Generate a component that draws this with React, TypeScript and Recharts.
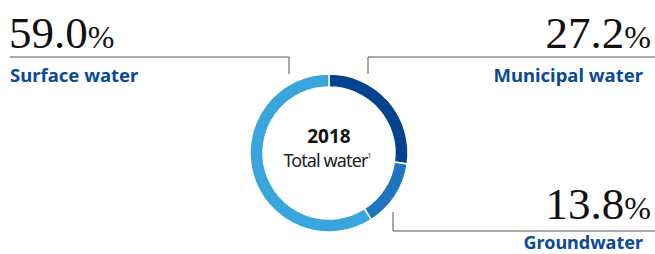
import React from 'react';
import { PieChart, Pie, Cell } from 'recharts';

const categories = ['Municipal water', 'Groundwater', 'Surface water'];
const shares = [27.2, 13.8, 59.0];
const colors = ['#00448f', '#1f74bf', '#38a5dd'];
const centerYear = '2018';
const centerLabel = 'Total water';

const data = categories.map((name, i) => ({ name, value: shares[i] }));

const serif = '"Liberation Serif", "DejaVu Serif", serif';
const sans = '"Noto Sans", "Open Sans", sans-serif';
const lineColor = '#555';
const labelBlue = '#0b4a98';

function Callout({ x, y, anchor, index }: { x: number; y: number; anchor: 'start' | 'end'; index: number }) {
    return (
        <text x={x} y={y} textAnchor={anchor} fontFamily={serif} fontSize={45} fill="#111">
            {shares[index].toFixed(1)}
            <tspan fontSize={32}>%</tspan>
        </text>
    );
}

export default function App() {
    return (
        <div style={{ position: 'absolute', left: 0, top: 0, width: 655, height: 254, background: '#fff' }}>
            <PieChart width={655} height={254} margin={{ top: 0, right: 0, bottom: 0, left: 0 }}>
                <Pie
                    data={data}
                    dataKey="value"
                    nameKey="name"
                    cx={329}
                    cy={153}
                    innerRadius={66}
                    outerRadius={79}
                    startAngle={90}
                    endAngle={-270}
                    stroke="#fff"
                    strokeWidth={1.5}
                    isAnimationActive={false}
                >
                    {data.map((entry, i) => (
                        <Cell key={entry.name} fill={colors[i]} />
                    ))}
                </Pie>

                {/* leader lines */}
                <polyline points="10,57 289,57 289,74" fill="none" stroke={lineColor} strokeWidth={1} />
                <polyline points="655,57 368,57 368,74" fill="none" stroke={lineColor} strokeWidth={1} />
                <polyline points="393,212 393,231 655,231" fill="none" stroke={lineColor} strokeWidth={1} />

                {/* surface water */}
                <Callout x={9} y={48} anchor="start" index={2} />
                <text x={10} y={82} fontFamily={sans} fontWeight={700} fontSize={18.5} fill={labelBlue}>{categories[2]}</text>

                {/* municipal water */}
                <Callout x={651} y={48} anchor="end" index={0} />
                <text x={643} y={82} textAnchor="end" fontFamily={sans} fontWeight={700} fontSize={18.5} fill={labelBlue}>{categories[0]}</text>

                {/* groundwater */}
                <Callout x={651} y={219} anchor="end" index={1} />
                <text x={643} y={248.5} textAnchor="end" fontFamily={sans} fontWeight={700} fontSize={18} fill={labelBlue}>{categories[1]}</text>

                {/* centre */}
                <text x={329} y={143} textAnchor="middle" fontFamily={sans} fontWeight={700} fontSize={19} fill="#111">{centerYear}</text>
                <text x={327} y={167} textAnchor="middle" fontFamily={sans} fontSize={18} letterSpacing={-0.9} fill="#222">
                    {centerLabel}
                    <tspan fontSize={7} dy={-9}>1</tspan>
                </text>
            </PieChart>
        </div>
    );
}
